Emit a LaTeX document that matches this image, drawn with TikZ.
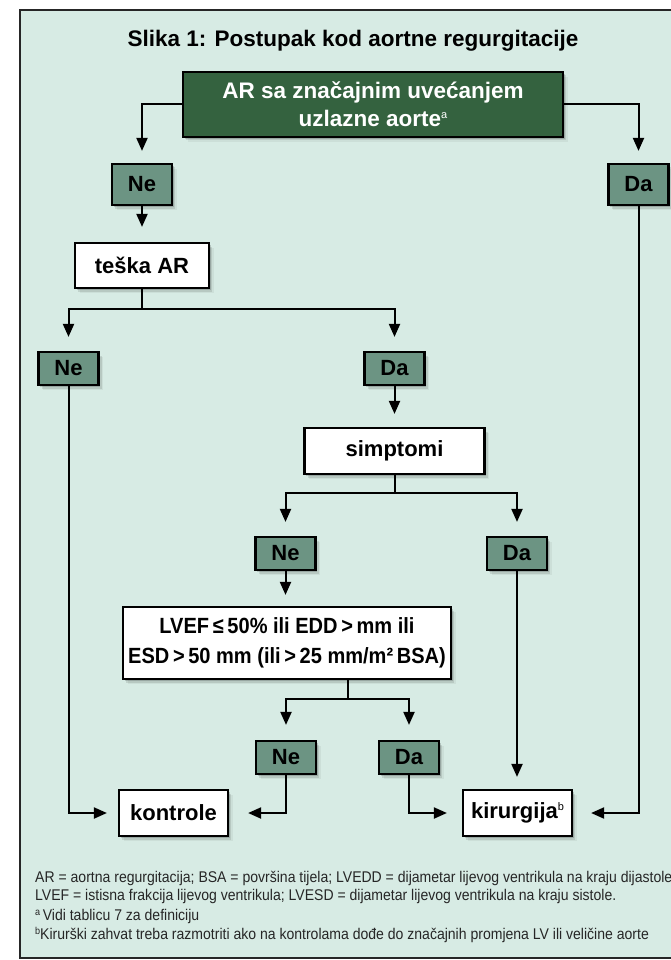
\documentclass[tikz,border=0pt]{standalone}
\usepackage{fontspec}
\setmainfont{Liberation Sans}
\newfontfamily\notefont[FakeStretch=0.905]{Liberation Sans}
\newfontfamily\condfont[FakeStretch=0.91]{Liberation Sans}
\usetikzlibrary{arrows.meta,shadows,calc}
\definecolor{panel}{RGB}{215,235,228}
\definecolor{darkgreen}{RGB}{52,98,63}
\definecolor{tagfill}{RGB}{108,148,131}
\newcommand{\smallsup}[1]{\raisebox{8pt}{\fontsize{11}{11}\selectfont\mdseries #1}}
\begin{document}
\begin{tikzpicture}[x=1pt,y=-1pt,
  softshadow/.style={
    general shadow={shadow xshift=1.5pt, shadow yshift=-2pt, fill=black, opacity=.16},
    general shadow={shadow xshift=3pt, shadow yshift=-3.5pt, fill=black, opacity=.10},
    general shadow={shadow xshift=4.5pt, shadow yshift=-5pt, fill=black, opacity=.05}},
  labelfont/.style={font=\fontsize{22}{26}\selectfont\bfseries},
  box/.style={draw=black, line width=2.2pt, fill=white, inner sep=0pt, softshadow, labelfont, align=center},
  tag/.style={box, fill=tagfill, minimum width=60pt, minimum height=33pt},
  bigtag/.style={tag, minimum height=41pt},
  conn/.style={line width=2pt},
  arr/.style={conn, -{Triangle[length=13pt,width=11pt]}, shorten >=13pt},
  note/.style={anchor=base west, inner sep=0pt, text=black!85, font=\notefont\fontsize{15.5}{18}\selectfont}
  ]
  % page and panel
  \fill[white] (0,0) rectangle (671,960);
  \useasboundingbox (0,0) rectangle (671,960);
  \clip (0,0) rectangle (671,960);
  \draw[line width=2pt, draw=black!85, fill=panel] (20,10) rectangle (700,958);

  % title
  \node[anchor=base, inner sep=0pt, font=\fontsize{22.5}{26}\selectfont\bfseries] (title) at (353,47)
    {Slika 1: Postupak kod aortne regurgitacije};

  % decision boxes
  \node[box, fill=darkgreen, text=white, minimum width=380pt, minimum height=65pt,
        font=\fontsize{22.5}{28}\selectfont\bfseries] (top) at (373,104.5)
    {AR sa značajnim uvećanjem\\uzlazne aorte\smallsup{a}};
  \node[bigtag] (ne1) at (142,184.5) {Ne};
  \node[bigtag] (da1) at (638.5,184.5) {Da};
  \node[box, minimum width=134pt, minimum height=45pt] (teska) at (142,265.5) {teška AR};
  \node[tag] (ne2) at (68.5,368.5) {Ne};
  \node[tag] (da2) at (394.5,368.5) {Da};
  \node[box, minimum width=180pt, minimum height=46pt] (simpt) at (394.5,451) {simptomi};
  \node[tag] (ne3) at (285.5,553.5) {Ne};
  \node[tag] (da3) at (517,553.5) {Da};
  \node[box, minimum width=328pt, minimum height=72pt,
        font=\condfont\fontsize{22}{30}\selectfont\bfseries] (lvef) at (287,643)
    {LVEF\,≤\,50\% ili EDD\,>\,mm ili\\ESD\,>\,50 mm (ili\,>\,25 mm/m²\,BSA)};
  \node[tag] (ne4) at (286,757.5) {Ne};
  \node[tag] (da4) at (409,757.5) {Da};
  \node[box, minimum width=109pt, minimum height=46pt] (kontrole) at (173.5,813) {kontrole};
  \node[box, minimum width=109pt, minimum height=46pt] (kirurgija) at (517.5,813) {kirurgija\smallsup{b}};

  % connectors
  \draw[arr, shorten >=12pt] (top.west) -| (ne1.north);
  \draw[arr, shorten >=12pt] (top.east) -| (da1.north);
  \draw[arr, shorten >=15pt] (ne1.south) -- (teska.north);
  \coordinate (tsplit) at ($(teska.south)+(0,20)$);
  \draw[conn] (teska.south) -- (tsplit);
  \draw[arr, shorten >=14pt] (tsplit) -| (ne2.north);
  \draw[arr, shorten >=14pt] (tsplit) -| (da2.north);
  \draw[arr] (da2.south) -- (simpt.north);
  \coordinate (ssplit) at ($(simpt.south)+(0,18)$);
  \draw[conn] (simpt.south) -- (ssplit);
  \draw[arr, shorten >=14pt] (ssplit) -| (ne3.north);
  \draw[arr, shorten >=14pt] (ssplit) -| (da3.north);
  \draw[arr, shorten >=11pt] (ne3.south) -- (ne3.south |- lvef.north);
  \coordinate (lstem) at ($(lvef.south)+(61,0)$);
  \coordinate (lsplit) at ($(lstem)+(0,19)$);
  \draw[conn] (lstem) -- (lsplit);
  \draw[arr, shorten >=15pt] (lsplit) -| (ne4.north);
  \draw[arr, shorten >=15pt] (lsplit) -| (da4.north);
  \draw[arr, shorten >=11pt] (ne2.south) |- (kontrole.west);
  \draw[arr, shorten >=19pt] (ne4.south) |- (kontrole.east);
  \draw[arr, shorten >=15pt] (da4.south) |- (kirurgija.west);
  \draw[arr, shorten >=12pt] (da3.south) -- (da3.south |- kirurgija.north);
  \draw[arr, shorten >=18pt] (da1.south) |- (kirurgija.east);

  % footnotes
  \node[note] (fn1) at (35,882) {AR = aortna regurgitacija; BSA = površina tijela; LVEDD = dijametar lijevog ventrikula na kraju dijastole};
  \node[note] (fn2) at (35,900) {LVEF = istisna frakcija lijevog ventrikula; LVESD = dijametar lijevog ventrikula na kraju sistole.};
  \node[note] (fn3) at (35,920) {\raisebox{5pt}{\fontsize{10}{10}\selectfont a}\,Vidi tablicu 7 za definiciju};
  \node[note] (fn4) at (35,939) {\raisebox{5pt}{\fontsize{10}{10}\selectfont b}Kirurški zahvat treba razmotriti ako na kontrolama dođe do značajnih promjena LV ili veličine aorte};
\end{tikzpicture}
\end{document}
